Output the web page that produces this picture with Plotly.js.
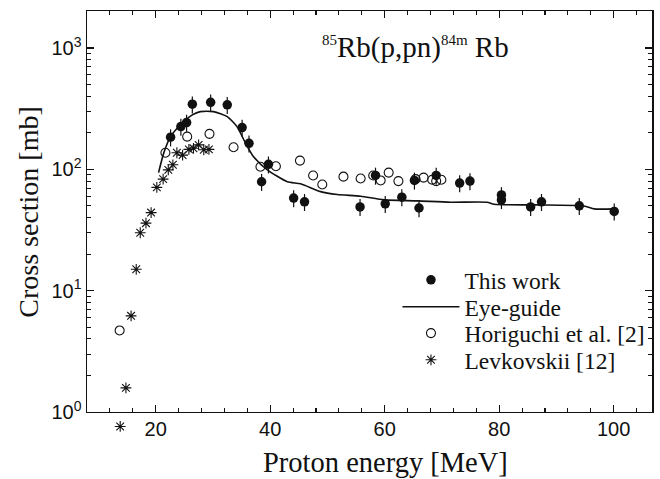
<!DOCTYPE html>
<html>
<head>
<meta charset="utf-8">
<script src="https://cdn.plot.ly/plotly-3.0.1.min.js"></script>
<style>html,body{margin:0;padding:0;background:#fff;}#chart{width:660px;height:479px;}</style>
</head>
<body>
<div id="chart"></div>
<script>
// This work (filled circles)
var thisX = [22.6, 24.4, 25.4, 26.4, 29.6, 32.5, 35.1, 36.3, 38.5, 39.7, 44.1, 46.0, 55.7, 58.4, 60.1, 63.0, 65.2, 66.0, 69.0, 73.1, 74.9, 80.4, 80.4, 85.5, 87.4, 94.0, 100.1];
var thisY = [184, 225, 243, 344, 357, 340, 221, 164, 79, 110, 58, 54, 49, 89, 52, 59, 81, 48, 89, 77, 80, 61.5, 56, 49, 54, 50, 45];
// Eye-guide (solid line)
var eyeX = [20.5, 21.4, 22.6, 24.3, 26.4, 27.8, 30.1, 32.5, 34.2, 35.7, 37.1, 39.5, 43.0, 45.3, 48.8, 51.7, 55.8, 59.9, 65.7, 71.5, 77.9, 79.1, 86.1, 94.8, 96.6, 100];
var eyeY = [94, 136, 186, 232, 281, 299, 299, 272, 225, 164, 127, 99, 79, 76, 65.5, 62, 60, 56, 55, 53.6, 53.6, 51.6, 50.9, 49.9, 47.2, 47.2];
// Horiguchi et al. [2] (open circles)
var horX = [13.7, 21.7, 25.5, 29.4, 33.6, 38.3, 41.0, 45.2, 47.5, 49.1, 52.8, 55.8, 58.0, 59.3, 60.7, 62.4, 65.4, 66.8, 68.3, 69.0, 69.9];
var horY = [4.7, 137, 186, 196, 152, 105, 106, 118, 89, 75, 87, 84, 89, 81, 94, 80, 83, 85.5, 82, 80, 82];
// Levkovskii [12] (asterisks)
var levX = [13.8, 14.8, 15.7, 16.6, 17.3, 18.3, 19.2, 20.2, 21.3, 22.2, 23.0, 23.7, 24.7, 25.8, 26.6, 27.5, 28.4, 29.3];
var levY = [0.76, 1.58, 6.2, 15, 30, 36, 44, 71, 83, 99, 109, 137, 131, 146, 149, 159, 145, 146];

var names = ['This work', 'Eye-guide', 'Horiguchi et al. [2]', 'Levkovskii [12]'];
var xTickVals = [20, 40, 60, 80, 100];
var yTickVals = [1, 10, 100, 1000];
var yTickText = ['10<sup>0</sup>', '10<sup>1</sup>', '10<sup>2</sup>', '10<sup>3</sup>'];
var yMinor = [];
[1, 10, 100, 1000].forEach(function (d) { for (var k = 2; k <= 9; k++) yMinor.push(k * d); });

var serif = 'Liberation Serif, Times New Roman, serif';
var sans = 'Liberation Sans, Arial, sans-serif';

var traces = [
  {
    x: thisX, y: thisY, name: names[0], type: 'scatter', mode: 'markers', legend: 'legend',
    marker: {symbol: 'circle', size: 9.5, color: '#111'},
    error_y: {type: 'percent', value: 16, color: '#111', thickness: 1.2, width: 0},
    cliponaxis: false
  },
  {
    x: eyeX, y: eyeY, name: names[1], type: 'scatter', mode: 'lines', legend: 'legend2',
    line: {color: '#111', width: 1.6, shape: 'spline', smoothing: 0.6}
  },
  {
    x: horX, y: horY, name: names[2], type: 'scatter', mode: 'markers', legend: 'legend3',
    marker: {symbol: 'circle-open', size: 9, color: '#111', line: {width: 1.1}},
    cliponaxis: false
  },
  {
    x: levX, y: levY, name: names[3], type: 'scatter', mode: 'markers', legend: 'legend4',
    xaxis: 'x', yaxis: 'y2',
    marker: {symbol: 'asterisk-open', size: 9, color: '#111', line: {width: 1.1}},
    cliponaxis: false
  }
];

function leg(y) {
  return {
    x: 0.5495, y: y, xanchor: 'left', yanchor: 'middle',
    bgcolor: 'rgba(0,0,0,0)', borderwidth: 0,
    font: {family: serif, size: 23.5, color: '#111'},
    itemwidth: 57
  };
}

var layout = {
  width: 660, height: 479,
  margin: {l: 87, r: 8, t: 11, b: 43, pad: 0},
  paper_bgcolor: '#fff', plot_bgcolor: 'rgba(0,0,0,0)',
  showlegend: true,
  font: {family: serif, color: '#111'},
  xaxis: {
    anchor: 'y',
    range: [8, 106.7], showgrid: false, zeroline: false,
    showline: true, linecolor: '#111', linewidth: 1.5, mirror: 'ticks',
    ticks: 'inside', ticklen: 7, tickwidth: 1.3, tickcolor: '#111',
    tickmode: 'array', tickvals: xTickVals,
    ticklabelstandoff: -1,
    tickfont: {family: sans, size: 20, color: '#111'},
    minor: {dtick: 4, tick0: 0, ticks: 'inside', ticklen: 4, tickwidth: 1.1, tickcolor: '#111', showgrid: false}
  },
  yaxis: {
    type: 'log', range: [0, 3.305], domain: [0.0565, 1], anchor: 'x',
    showgrid: false, zeroline: false,
    showline: true, linecolor: '#111', linewidth: 1.5, mirror: 'ticks',
    ticks: 'inside', ticklen: 7, tickwidth: 1.3, tickcolor: '#111',
    tickmode: 'array', tickvals: yTickVals, ticktext: yTickText,
    tickfont: {family: sans, size: 20, color: '#111'},
    minor: {tickmode: 'array', tickvals: yMinor, ticks: 'inside', ticklen: 4, tickwidth: 1.1, tickcolor: '#111', showgrid: false}
  },
  yaxis2: {
    type: 'log', range: [-0.198, 3.305], domain: [0, 1], anchor: 'x',
    visible: false, showgrid: false, zeroline: false
  },
  legend: leg(0.367),
  legend2: leg(0.3035),
  legend3: leg(0.2416),
  legend4: leg(0.1788),
  annotations: [
    {
      text: '<sup><span style="font-size:15px">85</span></sup>Rb(p,pn)<sup><span style="font-size:15px">84m</span></sup> Rb',
      xref: 'x domain', yref: 'y domain',
      x: 0.413, y: 0.955, xanchor: 'left', yanchor: 'top', showarrow: false,
      font: {family: serif, size: 29, color: '#111'}
    },
    {
      text: 'Proton energy [MeV]', xref: 'x domain', yref: 'y domain',
      x: 0.528, y: -0.127, xanchor: 'center', yanchor: 'middle', showarrow: false,
      font: {family: serif, size: 28.5, color: '#111'}
    },
    {
      text: 'Cross section [mb]', xref: 'x domain', yref: 'y domain', textangle: -90,
      x: -0.104, y: 0.50, xanchor: 'center', yanchor: 'middle', showarrow: false,
      font: {family: serif, size: 28, color: '#111'}
    }
  ]
};

Plotly.newPlot('chart', traces, layout, {displayModeBar: false, staticPlot: true});
</script>
</body>
</html>
